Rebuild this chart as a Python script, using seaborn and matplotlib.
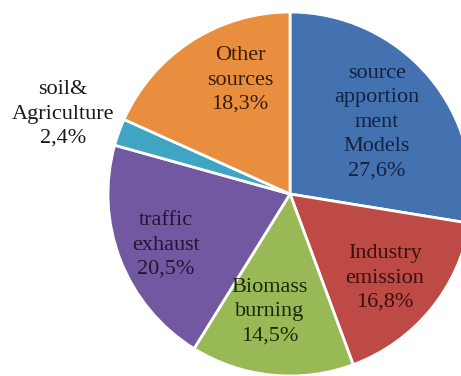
import numpy as np
import matplotlib
matplotlib.use("Agg")
import matplotlib.pyplot as plt
import seaborn as sns

# Share of studies by PM source category
categories = ["source\napportion\nment\nModels", "Industry\nemission", "Biomass\nburning",
              "traffic\nexhaust", "soil&\nAgriculture", "Other\nsources"]
shares = [27.6, 16.8, 14.5, 20.5, 2.4, 18.3]

sns.set_theme(style="white")
plt.rcParams["font.family"] = ["Liberation Serif", "DejaVu Serif"]

colors = ["#4472B0", "#BD4A45", "#98B955", "#7158A0", "#3FA5C3", "#E98D3F"]
text_colors = ["#14223f", "#3a0f0c", "#1c2a0a", "#221536", "#1a1a1a", "#3a1e08"]
# label placement in polar form (degrees, radius as fraction of the pie radius)
label_polar = [(39.6, 0.620), (-41.5, 0.697), (-99.6, 0.657),
               (-157.6, 0.736), (160.6, 1.322), (113.7, 0.684)]

fig = plt.figure(figsize=(4.61, 3.76), dpi=100)
ax = fig.add_axes([0, 0, 1, 1])

wedges, _ = ax.pie(shares, colors=colors, startangle=90, counterclock=False,
                   radius=1.0, wedgeprops=dict(edgecolor="white", linewidth=2))

for name, val, (ang, r), tc in zip(categories, shares, label_polar, text_colors):
    x = r * np.cos(np.deg2rad(ang))
    y = r * np.sin(np.deg2rad(ang))
    pct = f"{val:.1f}%".replace(".", ",")
    ax.text(x, y, f"{name}\n{pct}", ha="center", va="center", fontsize=16,
            color=tc, linespacing=1.38)

# pie centre at pixel (290, 194), radius 182 px
scale = 182.0
ax.set_xlim(-290 / scale, (461 - 290) / scale)
ax.set_ylim(-(376 - 194) / scale, 194 / scale)
ax.set_aspect("auto")
ax.axis("off")

fig.savefig("out.png", dpi=100, facecolor="white")
